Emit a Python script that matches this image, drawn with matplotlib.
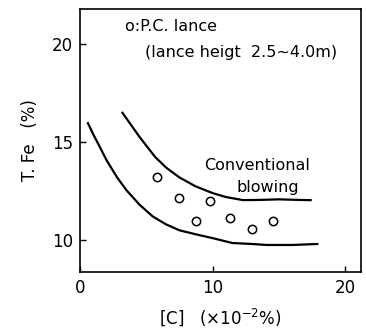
import matplotlib
matplotlib.use("Agg")
import matplotlib.pyplot as plt

# Data
lower_x = [0.6, 1.0, 1.5, 2.0, 2.8, 3.5, 4.5, 5.5, 6.5, 7.5, 8.7, 10.0, 11.5, 13.0, 14.1, 16.0, 17.9]
lower_y = [15.97, 15.4, 14.75, 14.08, 13.2, 12.55, 11.8, 11.2, 10.8, 10.5, 10.3, 10.1, 9.85, 9.8, 9.75, 9.75, 9.8]
upper_x = [3.2, 4.5, 5.66, 6.5, 7.5, 8.7, 10.0, 11.0, 12.3, 13.5, 15.0, 16.5, 17.4]
upper_y = [16.5, 15.26, 14.25, 13.7, 13.2, 12.75, 12.4, 12.2, 12.04, 12.05, 12.08, 12.05, 12.04]
pc_x = [5.8, 7.5, 8.75, 9.8, 11.3, 13.0, 14.55]
pc_y = [13.2, 12.15, 10.97, 12.0, 11.14, 10.58, 10.95]
xticks = [0, 10, 20]
yticks = [10, 15, 20]

fig = plt.figure(figsize=(3.66, 3.33), dpi=100)
ax = fig.add_axes([80/366, 1-272/333, (361-80)/366, (272-9)/333])
ax.plot(lower_x, lower_y, color="black", lw=1.6)
ax.plot(upper_x, upper_y, color="black", lw=1.6)
ax.scatter(pc_x, pc_y, s=36, facecolors="white", edgecolors="black", linewidths=1.1, zorder=3)

ax.set_xlim(0, 21.2)
ax.set_ylim(8.37, 21.8)
ax.set_xticks(xticks)
ax.set_yticks(yticks)
ax.tick_params(direction="in", length=4, width=1, labelsize=12, pad=5)
for s in ax.spines.values():
    s.set_linewidth(1.2)

ax.text(3.4, 20.9, "o:P.C. lance", fontsize=11.5, va="center", ha="left")
ax.text(4.9, 19.6, "(lance heigt  2.5~4.0m)", fontsize=11.5, va="center", ha="left")
ax.text(9.4, 13.8, "Conventional", fontsize=11.5, va="center", ha="left")
ax.text(11.8, 12.7, "blowing", fontsize=11.5, va="center", ha="left")

ax.set_ylabel("T. Fe   (%)", fontsize=12, labelpad=9)
ax.set_xlabel("[C]   (×10$^{-2}$%)", fontsize=12, labelpad=7)

fig.savefig("out.png", dpi=100)
